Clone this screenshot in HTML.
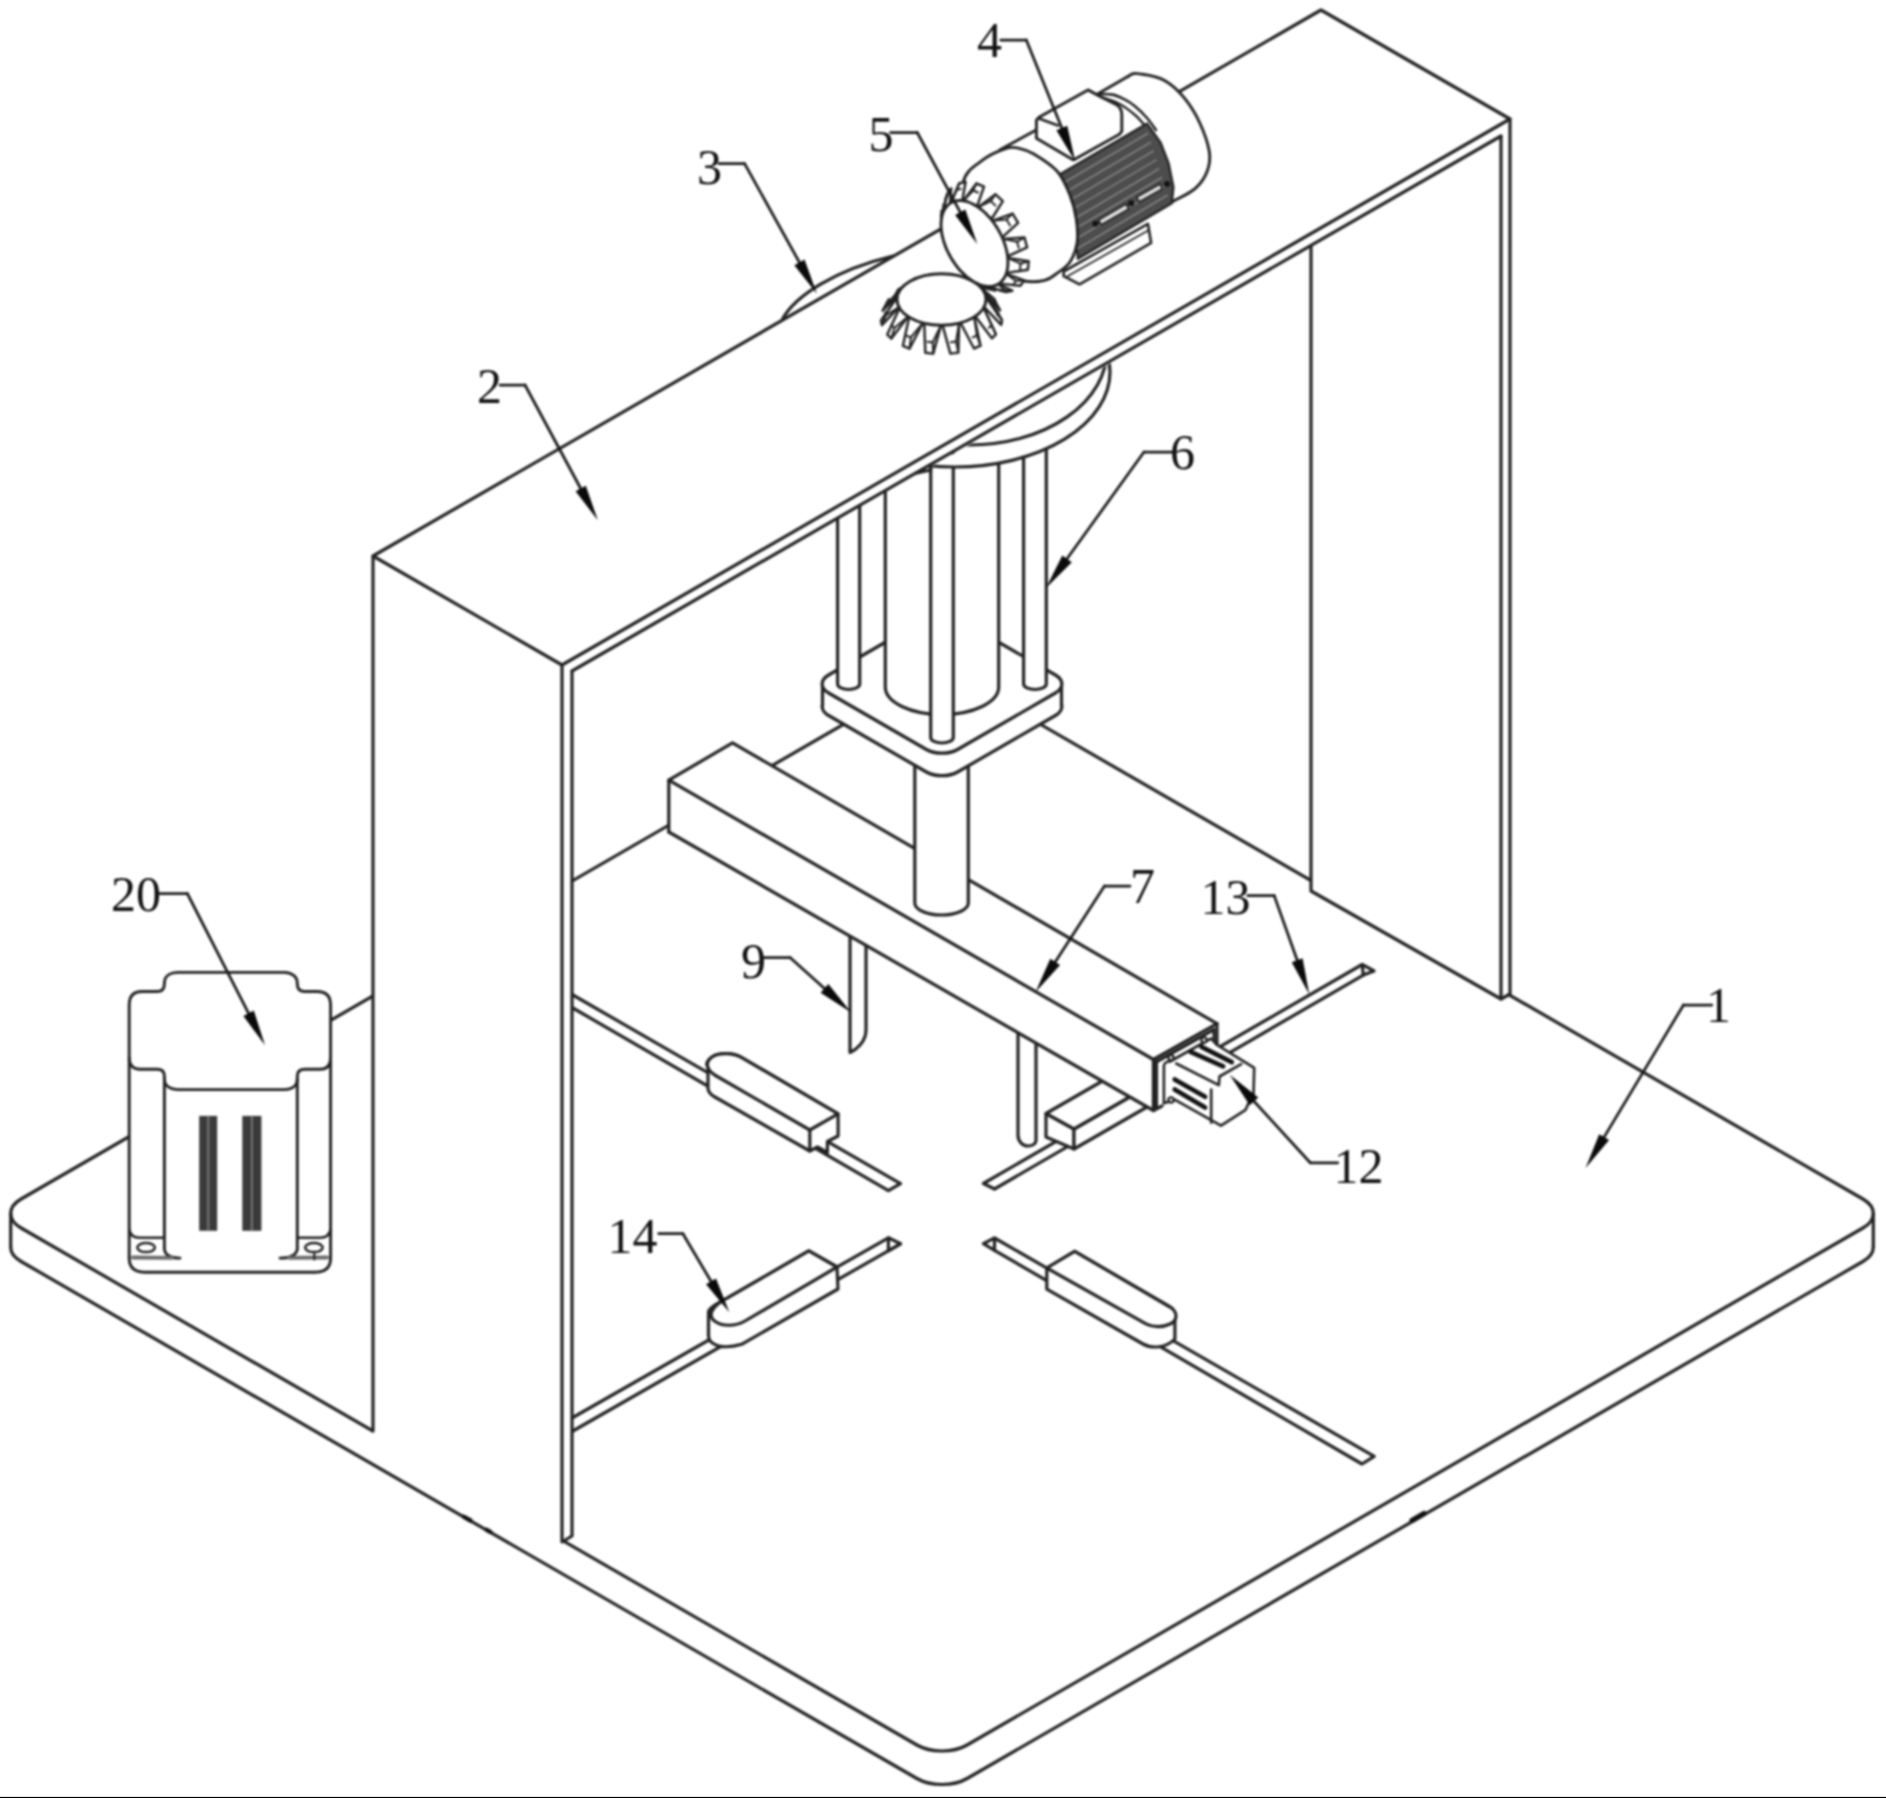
<!DOCTYPE html>
<html><head><meta charset="utf-8"><style>html,body{margin:0;padding:0;background:#fff;}svg{display:block;}</style></head>
<body><svg width="1886" height="1798" viewBox="0 0 1886 1798" stroke-linecap="round" stroke-linejoin="round"><defs><filter id="bl" color-interpolation-filters="sRGB" filterUnits="userSpaceOnUse" x="0" y="0" width="1886" height="1798"><feGaussianBlur stdDeviation="0.8"/></filter></defs><rect width="100%" height="100%" fill="#fff"/><g filter="url(#bl)"><defs><clipPath id="cbot"><rect x="0" y="1246.5" width="1886" height="600"/></clipPath></defs>
<path d="M21.1,1261.5 L916.9,1778.5 C930.8,1786.5 953.2,1786.5 967.1,1778.5 L1862.9,1261.5 C1876.8,1253.5 1876.8,1240.5 1862.9,1232.5 L967.1,715.5 C953.2,707.5 930.8,707.5 916.9,715.5 L21.1,1232.5 C7.2,1240.5 7.2,1253.5 21.1,1261.5" fill="none" stroke="#222" stroke-width="3.19" clip-path="url(#cbot)"/>
<path d="M21.1,1228.0 L916.9,1745.0 C930.8,1753.0 953.2,1753.0 967.1,1745.0 L1862.9,1228.0 C1876.8,1220.0 1876.8,1207.0 1862.9,1199.0 L967.1,682.0 C953.2,674.0 930.8,674.0 916.9,682.0 L21.1,1199.0 C7.2,1207.0 7.2,1220.0 21.1,1228.0" fill="#fff" stroke="#222" stroke-width="3.19"/>
<path d="M10.7,1213.5 L10.7,1247.0" stroke="#222" stroke-width="3.19" fill="none" />
<path d="M1873.3,1213.5 L1873.3,1247.0" stroke="#222" stroke-width="3.19" fill="none" />
<path d="M464.0,1516.8 L470.5,1520.5" stroke="#111" stroke-width="4.35" fill="none" />
<path d="M486.8,1529.8 L490.5,1532.0" stroke="#111" stroke-width="4.35" fill="none" />
<path d="M1412.0,1520.5 L1424.0,1513.6" stroke="#111" stroke-width="5.22" fill="none" />
<path d="M572.0,994.5 L900.5,1183.6 L888.4,1190.6 L572.0,1007.5" stroke="#222" stroke-width="3.19" fill="none" />
<path d="M572.0,1418.0 L888.4,1237.8 L900.5,1243.8 L572.0,1431.5" stroke="#222" stroke-width="3.19" fill="none" />
<path d="M888.4,1237.8 L888.4,1250.8 L900.5,1243.8" stroke="#222" stroke-width="3.19" fill="none" />
<path d="M994.5,1189.0 L983.4,1183.5 L1362.2,964.5 L1374.0,970.9 L1363.3,975.1 L994.5,1189.0" stroke="#222" stroke-width="3.19" fill="none" />
<path d="M1362.2,964.5 L1363.3,975.1" stroke="#222" stroke-width="3.19" fill="none" />
<path d="M983.4,1243.6 L994.5,1238.0 L1374.2,1456.3 L1362.0,1464.0 L994.5,1250.3 L983.4,1243.6" stroke="#222" stroke-width="3.19" fill="none" />
<path d="M994.5,1238.0 L994.5,1250.3" stroke="#222" stroke-width="3.19" fill="none" />
<path d="M708,1067 L708,1088 C708,1092 710,1094 714,1096.5 L809.8,1151 L817.5,1147 L827.4,1152.5 L827.4,1141.5 L838.1,1136 L838.1,1113.8 L741.3,1057.4 C732,1052 718,1053 712,1057 C706,1061 706,1065 708,1067 Z" fill="#fff" stroke="#222" stroke-width="3.19"/>
<path d="M809.8,1130 L715.5,1075.5 C706,1070 705,1062 712,1057 C718,1053 732,1052 741.3,1057.4 L838.1,1113.8 Z" fill="#fff" stroke="#222" stroke-width="3.19"/>
<path d="M809.8,1130.0 L809.8,1151.0" stroke="#222" stroke-width="3.19" fill="none" />
<path d="M708.5,1312 L708.5,1336 C709,1345 722,1350 741.6,1344.3 L838,1289 L837,1267 L808.8,1250.9 L727.2,1298.2 C716,1304 709,1308 708.5,1312 Z" fill="#fff" stroke="#222" stroke-width="3.19"/>
<path d="M808.8,1250.9 L727.2,1298.2 C712,1306 706,1316 716,1322 C722,1326 735,1327 745,1321 L837,1267 Z" fill="#fff" stroke="#222" stroke-width="3.19"/>
<path d="M1046.8,1268 L1046.8,1289.2 L1143,1344 C1152,1349 1166,1348 1174.9,1339 L1174.9,1314 C1174,1310 1172,1308 1170,1307 L1074.7,1251.4 Z" fill="#fff" stroke="#222" stroke-width="3.19"/>
<path d="M1046.8,1268 L1074.7,1251.4 L1170,1307 C1178,1312 1178,1320 1170,1324 C1163,1327.5 1153,1327.5 1146,1323.8 Z" fill="#fff" stroke="#222" stroke-width="3.19"/>
<path d="M1046.0,1113.5 L1074.0,1129.0 L1074.0,1149.0 L1046.0,1137.0Z" fill="#fff" stroke="#222" stroke-width="3.19"/>
<path d="M1074.0,1129.0 L1160.0,1079.5 L1160.0,1099.5 L1074.0,1149.0Z" fill="#fff" stroke="#222" stroke-width="3.19"/>
<path d="M1046.0,1113.5 L1132.0,1064.0 L1160.0,1079.5 L1074.0,1129.0Z" fill="#fff" stroke="#222" stroke-width="3.19"/>
<path d="M850,934 L850,1052.5 C856,1050 866,1042 866,1030 L866,946" fill="#fff" stroke="#222" stroke-width="3.19"/>
<path d="M1018,1033 L1018,1135 C1018,1142 1023,1146 1028,1146 C1032,1146 1036,1144 1036,1140 L1036,1043" fill="#fff" stroke="#222" stroke-width="3.19"/>
<path d="M668.8,780.2 L732.5,742.9 L1217.0,1023.7 L1217.0,1045.0 L1153.4,1110.5 L668.8,832.0Z" fill="#fff" stroke="none"/>
<path d="M668.8,832.0 L668.8,780.2 L732.5,742.9 L1217.0,1023.7" stroke="#222" stroke-width="3.19" fill="none" />
<path d="M668.8,780.2 L1153.4,1059.5 L1217.0,1023.7" stroke="#222" stroke-width="3.19" fill="none" />
<path d="M668.8,832.0 L1153.4,1110.5 L1153.4,1059.5" stroke="#222" stroke-width="3.19" fill="none" />
<path d="M1217.0,1023.7 L1217.0,1046.0" stroke="#222" stroke-width="3.19" fill="none" />
<path d="M1156.5,1061.0 L1156.5,1108.0" stroke="#222" stroke-width="3.19" fill="none" />
<path d="M1157.0,1061.5 L1214.0,1029.5 L1214.0,1046.0" stroke="#222" stroke-width="3.19" fill="none" />
<path d="M1153.4,1110.5 L1162.0,1106.0" stroke="#222" stroke-width="3.19" fill="none" />
<path d="M1163.9,1103.3 L1163.9,1066 C1164,1063 1167,1061.5 1170,1061.5 L1211,1038.5 L1216.6,1044.7 L1254.2,1067.8 L1253.5,1095.3 L1248.5,1103.3 L1245.6,1109.8 L1221,1125.7 L1174.7,1099.7 Z" fill="#fff" stroke="#222" stroke-width="2.61"/>
<path d="M1176.2,1063.5 L1218.8,1085.2 L1219.5,1076.5 L1241.2,1064.2" stroke="#222" stroke-width="2.61" fill="none" />
<path d="M1211.2,1089.5 L1211.2,1122.8" stroke="#222" stroke-width="2.61" fill="none" />
<path d="M1201.5,1046.9 L1231.8,1062.1" stroke="#111" stroke-width="4.64" fill="none" />
<path d="M1190.6,1051.9 L1223.2,1066.4" stroke="#111" stroke-width="4.64" fill="none" />
<path d="M1174.7,1079.4 L1205.1,1096.8" stroke="#111" stroke-width="4.64" fill="none" />
<path d="M1174.7,1089.5 L1205.1,1107.6" stroke="#111" stroke-width="4.64" fill="none" />
<circle cx="1171" cy="1057.7" r="2.6" fill="#fff" stroke="#222" stroke-width="2.32"/>
<circle cx="1171" cy="1100" r="2.6" fill="#fff" stroke="#222" stroke-width="2.32"/>
<circle cx="1204" cy="1040" r="2.6" fill="#fff" stroke="#222" stroke-width="2.32"/>
<path d="M914.8,740 L914.8,903 A26.75,12 0 0 0 968.3,903 L968.3,740" fill="#fff" stroke="#222" stroke-width="3.19"/>
<defs><clipPath id="cfl"><rect x="0" y="684" width="1886" height="200"/></clipPath></defs>
<path d="M828.6,715.5 L926.4,772.0 C935.0,776.9 949.0,776.9 957.6,772.0 L1055.4,715.5 C1064.0,710.5 1064.0,702.5 1055.4,697.5 L957.6,641.0 C949.0,636.1 935.0,636.1 926.4,641.0 L828.6,697.5 C820.0,702.5 820.0,710.5 828.6,715.5" fill="#fff" stroke="#222" stroke-width="3.19" clip-path="url(#cfl)"/>
<rect x="822.2" y="684" width="239.6" height="23" fill="#fff"/>
<path d="M822.5,684.0 L822.5,706.5" stroke="#222" stroke-width="3.19" fill="none" />
<path d="M1061.5,684.0 L1061.5,706.5" stroke="#222" stroke-width="3.19" fill="none" />
<path d="M828.6,693.0 L926.4,749.5 C935.0,754.4 949.0,754.4 957.6,749.5 L1055.4,693.0 C1064.0,688.0 1064.0,680.0 1055.4,675.0 L957.6,618.5 C949.0,613.6 935.0,613.6 926.4,618.5 L828.6,675.0 C820.0,680.0 820.0,688.0 828.6,693.0" fill="#fff" stroke="#222" stroke-width="3.19"/>
<path d="M885.3,480 L885.3,687 A56.7,27.5 0 0 0 998.7,687 L998.7,455 Z" fill="#fff" stroke="#222" stroke-width="3.19"/>
<path d="M837.6,500 L837.6,684 A11.05,5.5 0 0 0 859.7,684 L859.7,490" fill="#fff" stroke="#222" stroke-width="3.19"/>
<path d="M1023.6,440 L1023.6,684 A11.35,5.5 0 0 0 1046.3,684 L1046.3,430" fill="#fff" stroke="#222" stroke-width="3.19"/>
<path d="M930.7,450 L930.7,737.5 A11.3,5.5 0 0 0 953.3,737.5 L953.3,450" fill="#fff" stroke="#222" stroke-width="3.19"/>
<path d="M1311.0,245.3 L1501.0,136.0 L1501.0,999.0 L1311.0,891.0Z" fill="#fff" stroke="none"/>
<path d="M1501.0,136.0 L1510.0,119.0 L1510.0,994.0 L1501.0,999.0Z" fill="#fff" stroke="none"/>
<path d="M1311.0,245.3 L1311.0,891.0 L1501.0,999.0 L1510.0,994.0 L1510.0,119.0" stroke="#222" stroke-width="3.19" fill="none" />
<path d="M1501.0,136.0 L1501.0,999.0" stroke="#222" stroke-width="3.19" fill="none" />
<path d="M373.0,556.0 L562.0,665.0 L562.0,1545.0 L373.0,1434.0Z" fill="#fff" stroke="none"/>
<path d="M562.0,665.0 L572.0,671.0 L572.0,1536.0 L562.0,1542.0Z" fill="#fff" stroke="none"/>
<path d="M373.0,556.0 L373.0,1431.0" stroke="#222" stroke-width="3.19" fill="none" />
<path d="M562.0,665.0 L562.0,1542.0 L572.0,1536.0 L572.0,671.0" stroke="#222" stroke-width="3.19" fill="none" />
<rect x="129.2" y="972" width="201.4" height="300" fill="#fff"/>
<path d="M129.2,1258 L129.2,1005 C129.2,996 133,991.5 142,991.5 L157,991.5 Q164.4,991.5 164.4,984 L164.4,983 C164.4,976 170,972.4 178.9,972.4 L284.2,972.4 C292,972.4 297.3,977 297.3,983 L297.3,984 Q297.3,991.5 305,991.5 L317,991.5 C326,991.5 330.6,996 330.6,1005 L330.6,1258" stroke="#222" stroke-width="2.90" fill="none" />
<path d="M129.2,1058 C129.2,1065 133,1069.3 140,1069.3 L157,1069.3 Q164.4,1069.3 164.4,1076 L164.4,1079 C164.4,1086 170,1089.6 179,1089.6 L284,1089.6 C292,1089.6 297.3,1086 297.3,1079 L297.3,1076 Q297.3,1069.3 305,1069.3 L320,1069.3 C327,1069.3 330.6,1065 330.6,1058" stroke="#222" stroke-width="2.90" fill="none" />
<path d="M164.4,1079.0 L164.4,1249.0" stroke="#222" stroke-width="2.90" fill="none" />
<path d="M297.3,1079.0 L297.3,1249.0" stroke="#222" stroke-width="2.90" fill="none" />
<path d="M129.2,1229.5 C130,1235 134,1237.8 140,1237.8 L163,1237.8" stroke="#222" stroke-width="2.61" fill="none" />
<path d="M330.6,1229.5 C329.5,1235 326,1237.8 320,1237.8 L298,1237.8" stroke="#222" stroke-width="2.61" fill="none" />
<path d="M164.4,1249 C165,1255 170,1258 180,1258.2" stroke="#222" stroke-width="2.75" fill="none" />
<path d="M297.3,1249 C296.5,1255 291,1258 280,1258.2" stroke="#222" stroke-width="2.75" fill="none" />
<path d="M133.0,1257.5 L172.0,1257.8" stroke="#6a6a6a" stroke-width="3.77" fill="none" />
<path d="M289.0,1257.8 L327.0,1257.5" stroke="#6a6a6a" stroke-width="3.77" fill="none" />
<path d="M314.3,1254.0 L314.3,1259.4" stroke="#222" stroke-width="2.17" fill="none" />
<path d="M129.2,1258 C129.2,1267 134,1272.2 145,1272.2 L315,1272.2 C326,1272.2 330.6,1267 330.6,1258" stroke="#222" stroke-width="2.90" fill="none" />
<ellipse cx="146.1" cy="1247.6" rx="8.8" ry="4.5" fill="none" stroke="#222" stroke-width="2.46"/>
<ellipse cx="313.9" cy="1247.6" rx="8.8" ry="4.5" fill="none" stroke="#222" stroke-width="2.46"/>
<rect x="199.2" y="1115.9" width="18.0" height="114.9" fill="#3a3a3a"/>
<line x1="208.2" y1="1117" x2="208.2" y2="1230" stroke="#707070" stroke-width="2.32"/>
<rect x="242.3" y="1115.9" width="19.099999999999966" height="114.9" fill="#3a3a3a"/>
<line x1="251.85" y1="1117" x2="251.85" y2="1230" stroke="#707070" stroke-width="2.32"/>
<defs><clipPath id="cbeam"><path d="M0,1200 L572,1200 L572,673.5 L1501,138.5 L1886,138.5 L1886,1200 Z"/></clipPath></defs>
<ellipse cx="955" cy="372" rx="155" ry="95" fill="#fff" stroke="#222" stroke-width="3.19" clip-path="url(#cbeam)"/>
<ellipse cx="970" cy="350" rx="137" ry="95" fill="none" stroke="#222" stroke-width="3.19" clip-path="url(#cbeam)"/>
<path d="M930.7,466.0 L930.7,470.0" stroke="#222" stroke-width="3.19" fill="none" />
<path d="M562.0,665.0 L1510.0,119.0 L1501.0,136.0 L572.0,671.0Z" fill="#fff" stroke="none"/>
<path d="M373.0,556.0 L1321.0,10.0 L1510.0,119.0 L562.0,665.0Z" fill="#fff" stroke="#222" stroke-width="3.19"/>
<path d="M572.0,671.0 L1501.0,136.0" stroke="#222" stroke-width="3.19" fill="none" />
<path d="M782.4,319.3 C795,296 835,270 893,256" stroke="#222" stroke-width="3.19" fill="none" />
<path d="M932.8,274.3 L937.2,284.1 L945.3,284.1 L949.8,274.3Z" fill="#fff" stroke="#222" stroke-width="2.46"/>
<path d="M937.2,284.1 L938.6,277.8 L932.8,274.3" stroke="#222" stroke-width="1.97" fill="none" />
<path d="M938.6,277.8 L943.9,277.7" stroke="#222" stroke-width="1.97" fill="none" />
<path d="M951.3,274.4 L962.1,286.1 L969.5,288.0 L966.9,278.4Z" fill="#fff" stroke="#222" stroke-width="2.46"/>
<path d="M962.1,286.1 L961.7,279.9 L951.3,274.4" stroke="#222" stroke-width="1.97" fill="none" />
<path d="M961.7,279.9 L966.5,281.1" stroke="#222" stroke-width="1.97" fill="none" />
<path d="M915.8,278.5 L913.0,288.2 L920.4,286.2 L931.3,274.5Z" fill="#fff" stroke="#222" stroke-width="2.46"/>
<path d="M913.0,288.2 L916.0,281.3 L915.8,278.5" stroke="#222" stroke-width="1.97" fill="none" />
<path d="M916.0,281.3 L920.8,280.0" stroke="#222" stroke-width="1.97" fill="none" />
<path d="M968.1,278.9 L983.5,293.8 L988.9,297.3 L979.6,286.2Z" fill="#fff" stroke="#222" stroke-width="2.46"/>
<path d="M983.5,293.8 L981.3,287.3 L968.1,278.9" stroke="#222" stroke-width="1.97" fill="none" />
<path d="M981.3,287.3 L984.9,289.5" stroke="#222" stroke-width="1.97" fill="none" />
<path d="M903.2,286.4 L893.7,297.5 L899.1,294.0 L914.6,279.0Z" fill="#fff" stroke="#222" stroke-width="2.46"/>
<path d="M893.7,297.5 L897.8,289.8 L903.2,286.4" stroke="#222" stroke-width="1.97" fill="none" />
<path d="M897.8,289.8 L901.3,287.5" stroke="#222" stroke-width="1.97" fill="none" />
<path d="M980.3,286.9 L997.6,305.8 L1000.1,310.3 L985.6,296.3Z" fill="#fff" stroke="#222" stroke-width="2.46"/>
<path d="M997.6,305.8 L994.1,298.6 L980.3,286.9" stroke="#222" stroke-width="1.97" fill="none" />
<path d="M994.1,298.6 L995.7,301.5" stroke="#222" stroke-width="1.97" fill="none" />
<path d="M897.3,296.5 L882.7,310.6 L885.2,306.2 L902.5,287.1Z" fill="#fff" stroke="#222" stroke-width="2.46"/>
<path d="M882.7,310.6 L887.1,301.8 L897.3,296.5" stroke="#222" stroke-width="1.97" fill="none" />
<path d="M887.1,301.8 L888.8,298.9" stroke="#222" stroke-width="1.97" fill="none" />
<path d="M985.8,297.1 L1002.0,320.2 L1001.2,324.8 L984.1,306.9Z" fill="#fff" stroke="#222" stroke-width="2.46"/>
<path d="M1002.0,320.2 L997.7,311.9 L985.8,297.1" stroke="#222" stroke-width="1.97" fill="none" />
<path d="M997.7,311.9 L997.2,315.0" stroke="#222" stroke-width="1.97" fill="none" />
<path d="M899.0,307.1 L881.9,325.1 L881.0,320.5 L897.2,297.4Z" fill="#fff" stroke="#222" stroke-width="2.46"/>
<path d="M881.9,325.1 L885.9,315.3 L899.0,307.1" stroke="#222" stroke-width="1.97" fill="none" />
<path d="M885.9,315.3 L885.3,312.3" stroke="#222" stroke-width="1.97" fill="none" />
<path d="M983.7,307.7 L995.9,334.3 L991.9,338.3 L975.2,316.3Z" fill="#fff" stroke="#222" stroke-width="2.46"/>
<path d="M995.9,334.3 L991.6,325.0 L983.7,307.7" stroke="#222" stroke-width="1.97" fill="none" />
<path d="M991.6,325.0 L989.0,327.7" stroke="#222" stroke-width="1.97" fill="none" />
<path d="M908.1,316.5 L891.4,338.6 L887.3,334.6 L899.5,308.0Z" fill="#fff" stroke="#222" stroke-width="2.46"/>
<path d="M891.4,338.6 L894.3,327.9 L908.1,316.5" stroke="#222" stroke-width="1.97" fill="none" />
<path d="M894.3,327.9 L891.6,325.3" stroke="#222" stroke-width="1.97" fill="none" />
<path d="M974.2,316.9 L980.5,345.7 L974.0,348.5 L960.5,322.7Z" fill="#fff" stroke="#222" stroke-width="2.46"/>
<path d="M980.5,345.7 L976.9,335.5 L974.2,316.9" stroke="#222" stroke-width="1.97" fill="none" />
<path d="M976.9,335.5 L972.6,337.3" stroke="#222" stroke-width="1.97" fill="none" />
<path d="M922.9,322.9 L909.5,348.7 L902.9,345.9 L909.1,317.1Z" fill="#fff" stroke="#222" stroke-width="2.46"/>
<path d="M909.5,348.7 L910.8,337.5 L922.9,322.9" stroke="#222" stroke-width="1.97" fill="none" />
<path d="M910.8,337.5 L906.5,335.7" stroke="#222" stroke-width="1.97" fill="none" />
<path d="M959.1,323.1 L958.3,352.6 L950.4,353.6 L942.5,325.2Z" fill="#fff" stroke="#222" stroke-width="2.46"/>
<path d="M958.3,352.6 L956.0,341.6 L959.1,323.1" stroke="#222" stroke-width="1.97" fill="none" />
<path d="M956.0,341.6 L950.9,342.3" stroke="#222" stroke-width="1.97" fill="none" />
<path d="M941.0,325.2 L933.2,353.6 L925.3,352.7 L924.3,323.2Z" fill="#fff" stroke="#222" stroke-width="2.46"/>
<path d="M933.2,353.6 L932.7,342.3 L941.0,325.2" stroke="#222" stroke-width="1.97" fill="none" />
<path d="M932.7,342.3 L927.5,341.7" stroke="#222" stroke-width="1.97" fill="none" />
<ellipse cx="941.5" cy="299.5" rx="44.5" ry="25.7" fill="#fff" stroke="#222" stroke-width="2.90"/>
<path d="M1128.3,76.3 C1133.4,72.0 1136.3,73.5 1142.5,74.3 C1148.7,75.1 1158.4,77.0 1165.4,81.0 C1172.4,85.0 1178.8,91.2 1184.5,98.2 C1190.2,105.2 1195.7,114.1 1199.8,123.0 C1203.9,131.9 1208.0,143.7 1209.3,151.6 C1210.6,159.5 1209.6,164.6 1207.4,170.7 C1205.2,176.8 1201.0,183.1 1195.9,187.9 C1190.8,192.7 1182.6,196.4 1176.9,199.3 C1171.2,202.2 1167.8,205.0 1161.6,205.1 C1155.4,205.2 1147.3,209.2 1140.0,200.0 C1132.7,190.8 1122.7,166.7 1118.0,150.0 C1113.3,133.3 1110.3,112.3 1112.0,100.0 C1113.7,87.7 1123.2,80.6 1128.3,76.3Z" fill="#fff" stroke="#222" stroke-width="2.90"/>
<path d="M1000.0,150.0 L1036.0,130.0 L1098.0,94.0 L1128.0,77.0 L1150.0,125.0 L1172.0,200.0 L1078.0,259.0 L1060.0,175.0Z" fill="#fff" stroke="none"/>
<path d="M1000.0,149.8 L1036.2,130.0" stroke="#222" stroke-width="2.90" fill="none" />
<path d="M1098.0,93.8 L1128.3,76.3" stroke="#222" stroke-width="2.90" fill="none" />
<path d="M1036.4,138.3 L1036.4,120.2 L1039,117.3 L1088,89.9 L1096.7,94.6 L1116,104.5 C1119,106 1121.8,110 1121.8,115 L1121.8,131.3 L1119.5,134.2 L1073.4,159.9 Z" fill="#fff" stroke="#222" stroke-width="2.90"/>
<path d="M1039.0,118.5 L1058.0,125.5" stroke="#222" stroke-width="2.61" fill="none" />
<path d="M1097.9,94.0 C1100.3,94.1 1108.1,93.7 1112.5,94.6 C1116.9,95.5 1120.3,97.3 1124.1,99.2 C1127.8,101.1 1131.2,103.1 1135.0,106.2 C1138.8,109.3 1143.5,114.0 1147.0,118.0 C1150.5,122.0 1154.5,128.0 1156.0,130.0" stroke="#222" stroke-width="2.61" fill="none" />
<path d="M1100.8,96.9 C1103.7,98.0 1112.6,100.3 1118.3,103.3 C1124.0,106.3 1130.2,110.9 1135.0,115.0 C1139.8,119.1 1145.0,125.8 1147.0,128.0" stroke="#222" stroke-width="2.32" fill="none" />
<path d="M1059.6,174.5 L1147.1,123.6 L1160.6,142.7 L1168.6,163.4 L1173.4,187.2 L1171.8,203.2 L1077.9,258.8 L1076.3,242.9 L1073.0,211.0 L1067.0,190.0Z" fill="#4d4d4d" stroke="#222" stroke-width="2.32"/>
<path d="M1063.6,182.9 L1147.8,133.4" stroke="#8a8a8a" stroke-width="1.45" fill="none" />
<path d="M1065.7,192.2 L1150.6,142.3" stroke="#8a8a8a" stroke-width="1.45" fill="none" />
<path d="M1067.7,201.6 L1153.3,151.1" stroke="#8a8a8a" stroke-width="1.45" fill="none" />
<path d="M1069.7,211.0 L1156.1,160.0" stroke="#8a8a8a" stroke-width="1.45" fill="none" />
<path d="M1071.8,220.3 L1158.8,168.8" stroke="#8a8a8a" stroke-width="1.45" fill="none" />
<path d="M1073.8,229.7 L1161.6,177.7" stroke="#8a8a8a" stroke-width="1.45" fill="none" />
<path d="M1075.8,239.1 L1164.3,186.5" stroke="#8a8a8a" stroke-width="1.45" fill="none" />
<path d="M1077.9,248.4 L1167.1,195.4" stroke="#8a8a8a" stroke-width="1.45" fill="none" />
<path d="M1098.6,220 L1126,204 L1128.8,209 L1101,225 Z" fill="#ddd" stroke="#222" stroke-width="1.74"/>
<path d="M1136.8,197 L1160,184 L1162.2,189 L1139,202 Z" fill="#ddd" stroke="#222" stroke-width="1.74"/>
<circle cx="1095.4" cy="223.8" r="3" fill="#111"/>
<circle cx="1131.2" cy="203.2" r="3" fill="#111"/>
<circle cx="1167" cy="184.1" r="3" fill="#111"/>
<path d="M1063.6,271.5 L1147.9,223.8 L1151.1,242.9 L1079.5,284.3 L1063.6,276 Z" fill="#fff" stroke="#222" stroke-width="2.61"/>
<path d="M1068.0,276.0 L1149.0,230.0" stroke="#222" stroke-width="1.74" fill="none" />
<path d="M963.0,183.0 C965.9,169.7 975.3,166.0 982.5,160.2 C989.7,154.4 1000.2,150.3 1006.3,148.3 C1012.4,146.3 1014.6,147.4 1019.1,148.3 C1023.6,149.2 1027.1,150.0 1033.4,153.8 C1039.8,157.6 1051.1,164.4 1057.2,171.3 C1063.3,178.2 1066.8,187.2 1070.0,195.2 C1073.2,203.1 1075.1,211.1 1076.3,219.0 C1077.5,226.9 1078.1,235.7 1077.1,242.9 C1076.0,250.1 1073.3,257.0 1070.0,262.0 C1066.7,267.0 1061.5,270.1 1057.2,273.1 C1053.0,276.2 1050.0,279.0 1044.5,280.3 C1039.0,281.6 1033.1,282.7 1024.0,281.0 C1014.9,279.3 999.8,276.8 990.0,270.0 C980.2,263.2 969.5,254.5 965.0,240.0 C960.5,225.5 960.1,196.3 963.0,183.0Z" fill="#fff" stroke="#222" stroke-width="2.90"/>
<path d="M950.8,202.9 L959.2,183.3 L965.6,182.0 L962.3,200.7Z" fill="#fff" stroke="#222" stroke-width="2.46"/>
<path d="M959.2,183.3 L956.9,189.7 L950.8,202.9" stroke="#222" stroke-width="1.97" fill="none" />
<path d="M956.9,189.7 L961.0,188.9" stroke="#222" stroke-width="1.97" fill="none" />
<path d="M963.5,200.8 L976.4,183.5 L984.0,186.6 L977.1,206.4Z" fill="#fff" stroke="#222" stroke-width="2.46"/>
<path d="M976.4,183.5 L973.1,190.5 L963.5,200.8" stroke="#222" stroke-width="1.97" fill="none" />
<path d="M973.1,190.5 L978.0,192.5" stroke="#222" stroke-width="1.97" fill="none" />
<path d="M942.9,213.0 L947.3,193.7 L951.2,188.3 L950.0,203.4Z" fill="#fff" stroke="#222" stroke-width="2.46"/>
<path d="M947.3,193.7 L945.4,198.8 L942.9,213.0" stroke="#222" stroke-width="1.97" fill="none" />
<path d="M945.4,198.8 L948.0,195.3" stroke="#222" stroke-width="1.97" fill="none" />
<path d="M978.3,207.2 L995.5,194.3 L1002.8,201.2 L991.3,219.5Z" fill="#fff" stroke="#222" stroke-width="2.46"/>
<path d="M995.5,194.3 L990.8,201.1 L978.3,207.2" stroke="#222" stroke-width="1.97" fill="none" />
<path d="M990.8,201.1 L995.5,205.6" stroke="#222" stroke-width="1.97" fill="none" />
<path d="M941.3,229.1 L942.9,212.7 L943.7,204.3 L942.5,214.1Z" fill="#fff" stroke="#222" stroke-width="2.46"/>
<path d="M942.9,212.7 L940.9,216.1 L941.3,229.1" stroke="#222" stroke-width="1.97" fill="none" />
<path d="M940.9,216.1 L941.4,210.6" stroke="#222" stroke-width="1.97" fill="none" />
<path d="M992.3,220.8 L1012.6,213.6 L1018.1,222.8 L1002.2,237.3Z" fill="#fff" stroke="#222" stroke-width="2.46"/>
<path d="M1012.6,213.6 L1006.5,219.4 L992.3,220.8" stroke="#222" stroke-width="1.97" fill="none" />
<path d="M1006.5,219.4 L1010.1,225.4" stroke="#222" stroke-width="1.97" fill="none" />
<path d="M946.2,248.1 L947.1,236.5 L944.4,226.7 L941.4,230.6Z" fill="#fff" stroke="#222" stroke-width="2.46"/>
<path d="M947.1,236.5 L944.3,238.1 L946.2,248.1" stroke="#222" stroke-width="1.97" fill="none" />
<path d="M944.3,238.1 L942.5,231.7" stroke="#222" stroke-width="1.97" fill="none" />
<path d="M1002.8,238.9 L1024.4,237.5 L1027.1,247.3 L1007.6,256.4Z" fill="#fff" stroke="#222" stroke-width="2.46"/>
<path d="M1024.4,237.5 L1017.1,241.8 L1002.8,238.9" stroke="#222" stroke-width="1.97" fill="none" />
<path d="M1017.1,241.8 L1018.8,248.1" stroke="#222" stroke-width="1.97" fill="none" />
<path d="M956.7,266.2 L958.9,260.4 L953.4,251.2 L946.8,249.7Z" fill="#fff" stroke="#222" stroke-width="2.46"/>
<path d="M958.9,260.4 L954.9,260.5 L956.7,266.2" stroke="#222" stroke-width="1.97" fill="none" />
<path d="M954.9,260.5 L951.3,254.4" stroke="#222" stroke-width="1.97" fill="none" />
<path d="M1007.7,257.9 L1028.6,261.3 L1027.9,269.7 L1006.5,272.9Z" fill="#fff" stroke="#222" stroke-width="2.46"/>
<path d="M1028.6,261.3 L1020.5,263.7 L1007.7,257.9" stroke="#222" stroke-width="1.97" fill="none" />
<path d="M1020.5,263.7 L1020.0,269.2" stroke="#222" stroke-width="1.97" fill="none" />
<path d="M970.7,279.8 L976.0,279.7 L968.7,272.8 L957.7,267.5Z" fill="#fff" stroke="#222" stroke-width="2.46"/>
<path d="M976.0,279.7 L970.6,278.7 L970.7,279.8" stroke="#222" stroke-width="1.97" fill="none" />
<path d="M970.6,278.7 L965.9,274.3" stroke="#222" stroke-width="1.97" fill="none" />
<path d="M1006.1,274.0 L1024.3,280.3 L1020.3,285.7 L999.0,283.6Z" fill="#fff" stroke="#222" stroke-width="2.46"/>
<path d="M1024.3,280.3 L1016.0,281.0 L1006.1,274.0" stroke="#222" stroke-width="1.97" fill="none" />
<path d="M1016.0,281.0 L1013.4,284.5" stroke="#222" stroke-width="1.97" fill="none" />
<path d="M985.5,286.2 L995.1,290.5 L987.5,287.4 L971.9,280.6Z" fill="#fff" stroke="#222" stroke-width="2.46"/>
<path d="M995.1,290.5 L988.3,289.3 L985.5,286.2" stroke="#222" stroke-width="1.97" fill="none" />
<path d="M988.3,289.3 L983.4,287.3" stroke="#222" stroke-width="1.97" fill="none" />
<path d="M998.2,284.1 L1012.3,290.7 L1005.9,292.0 L986.7,286.3Z" fill="#fff" stroke="#222" stroke-width="2.46"/>
<path d="M1012.3,290.7 L1004.5,290.2 L998.2,284.1" stroke="#222" stroke-width="1.97" fill="none" />
<path d="M1004.5,290.2 L1000.3,291.0" stroke="#222" stroke-width="1.97" fill="none" />
<path d="M998.0,284.2 C997.2,284.7 996.3,285.1 995.4,285.4 C994.5,285.7 993.5,286.0 992.5,286.2 C991.6,286.3 990.5,286.4 989.5,286.5 C988.4,286.5 987.4,286.4 986.3,286.3 C985.2,286.1 984.1,285.9 982.9,285.6 C981.8,285.3 980.7,285.0 979.5,284.5 C978.4,284.1 977.2,283.5 976.0,282.9 C974.9,282.4 973.7,281.7 972.5,281.0 C971.4,280.2 970.2,279.4 969.0,278.5 C967.9,277.7 966.7,276.7 965.6,275.8 C964.5,274.8 963.4,273.7 962.3,272.6 C961.2,271.5 960.1,270.4 959.1,269.2 C958.1,268.0 957.1,266.7 956.1,265.4 C955.1,264.1 954.2,262.8 953.3,261.4 C952.4,260.1 951.5,258.7 950.7,257.2 C949.9,255.8 949.1,254.4 948.4,252.9 C947.6,251.5 946.9,250.0 946.3,248.5 C945.7,247.0 945.1,245.5 944.6,244.0 C944.1,242.5 943.6,241.0 943.2,239.5 C942.8,238.0 942.4,236.5 942.1,235.1 C941.8,233.6 941.6,232.1 941.4,230.7 C941.2,229.3 941.1,227.9 941.1,226.5 C941.0,225.1 941.0,223.8 941.1,222.5 C941.2,221.1 941.3,219.9 941.5,218.7 C941.7,217.4 941.9,216.3 942.2,215.1 C942.6,214.0 942.9,212.9 943.3,211.9 C943.8,210.9 944.3,209.9 944.8,209.0 C945.3,208.1 945.9,207.3 946.6,206.5 C947.2,205.8 947.9,205.1 948.6,204.5 C949.4,203.8 950.2,203.3 951.0,202.8 C951.8,202.3 952.7,201.9 953.6,201.6 C954.5,201.3 955.5,201.0 956.5,200.8 C957.4,200.7 958.5,200.6 959.5,200.5 C960.6,200.5 961.6,200.6 962.7,200.7 C963.8,200.9 964.9,201.1 966.1,201.4 C967.2,201.7 968.3,202.0 969.5,202.5 C970.6,202.9 971.8,203.5 973.0,204.1 C974.1,204.6 975.3,205.3 976.5,206.0 C977.6,206.8 978.8,207.6 980.0,208.5 C981.1,209.3 982.3,210.3 983.4,211.2 C984.5,212.2 985.6,213.3 986.7,214.4 C987.8,215.5 988.9,216.6 989.9,217.8 C990.9,219.0 991.9,220.3 992.9,221.6 C993.9,222.9 994.8,224.2 995.7,225.6 C996.6,226.9 997.5,228.3 998.3,229.8 C999.1,231.2 999.9,232.6 1000.6,234.1 C1001.4,235.5 1002.1,237.0 1002.7,238.5 C1003.3,240.0 1003.9,241.5 1004.4,243.0 C1004.9,244.5 1005.4,246.0 1005.8,247.5 C1006.2,249.0 1006.6,250.5 1006.9,251.9 C1007.2,253.4 1007.4,254.9 1007.6,256.3 C1007.8,257.7 1007.9,259.1 1007.9,260.5 C1008.0,261.9 1008.0,263.2 1007.9,264.5 C1007.8,265.9 1007.7,267.1 1007.5,268.3 C1007.3,269.6 1007.1,270.7 1006.8,271.9 C1006.4,273.0 1006.1,274.1 1005.7,275.1 C1005.2,276.1 1004.7,277.1 1004.2,278.0 C1003.7,278.9 1003.1,279.7 1002.4,280.5 C1001.8,281.2 1001.1,281.9 1000.4,282.5 C999.6,283.2 998.8,283.7 998.0,284.2Z" fill="#fff" stroke="#222" stroke-width="2.90"/>
<text x="477" y="402.5" font-family="Liberation Serif, serif" font-size="50" fill="#111">2</text>
<path d="M500.0,385.0 L525.0,385.0" stroke="#1a1a1a" stroke-width="2.75" fill="none" />
<path d="M525.0,385.0 L580.7,488.5" stroke="#1a1a1a" stroke-width="2.75" fill="none" />
<path d="M597.8,520.2 L575.6,491.3 L585.8,485.8Z" fill="#0a0a0a" stroke="none"/>
<text x="697" y="183.7" font-family="Liberation Serif, serif" font-size="50" fill="#111">3</text>
<path d="M719.0,163.7 L744.6,163.7" stroke="#1a1a1a" stroke-width="2.75" fill="none" />
<path d="M744.6,163.7 L799.4,262.3" stroke="#1a1a1a" stroke-width="2.75" fill="none" />
<path d="M816.9,293.8 L794.3,265.2 L804.5,259.5Z" fill="#0a0a0a" stroke="none"/>
<text x="868.5" y="151.4" font-family="Liberation Serif, serif" font-size="50" fill="#111">5</text>
<path d="M890.5,132.5 L917.2,132.5" stroke="#1a1a1a" stroke-width="2.75" fill="none" />
<path d="M917.2,132.5 L960.2,212.2" stroke="#1a1a1a" stroke-width="2.75" fill="none" />
<path d="M977.3,243.9 L955.1,215.0 L965.3,209.5Z" fill="#0a0a0a" stroke="none"/>
<text x="977" y="56.8" font-family="Liberation Serif, serif" font-size="50" fill="#111">4</text>
<path d="M1000.7,40.0 L1026.3,40.0" stroke="#1a1a1a" stroke-width="2.75" fill="none" />
<path d="M1026.3,40.0 L1061.8,128.0" stroke="#1a1a1a" stroke-width="2.75" fill="none" />
<path d="M1075.3,161.4 L1056.4,130.2 L1067.2,125.8Z" fill="#0a0a0a" stroke="none"/>
<text x="1170" y="469" font-family="Liberation Serif, serif" font-size="50" fill="#111">6</text>
<path d="M1172.0,452.0 L1144.0,452.0" stroke="#1a1a1a" stroke-width="2.75" fill="none" />
<path d="M1144.0,452.0 L1067.0,558.8" stroke="#1a1a1a" stroke-width="2.75" fill="none" />
<path d="M1046.0,588.0 L1062.3,555.4 L1071.8,562.2Z" fill="#0a0a0a" stroke="none"/>
<text x="111" y="911.4" font-family="Liberation Serif, serif" font-size="50" fill="#111">20</text>
<path d="M159.8,893.5 L187.3,893.5" stroke="#1a1a1a" stroke-width="2.75" fill="none" />
<path d="M187.3,893.5 L248.6,1013.3" stroke="#1a1a1a" stroke-width="2.75" fill="none" />
<path d="M265.0,1045.3 L243.4,1015.9 L253.8,1010.6Z" fill="#0a0a0a" stroke="none"/>
<text x="741" y="977.5" font-family="Liberation Serif, serif" font-size="50" fill="#111">9</text>
<path d="M763.8,957.5 L790.0,957.5" stroke="#1a1a1a" stroke-width="2.75" fill="none" />
<path d="M790.0,957.5 L824.5,988.4" stroke="#1a1a1a" stroke-width="2.75" fill="none" />
<path d="M851.2,1012.5 L820.6,992.8 L828.3,984.1Z" fill="#0a0a0a" stroke="none"/>
<text x="1130" y="903" font-family="Liberation Serif, serif" font-size="50" fill="#111">7</text>
<path d="M1130.0,886.0 L1104.5,886.0" stroke="#1a1a1a" stroke-width="2.75" fill="none" />
<path d="M1104.5,886.0 L1055.2,961.9" stroke="#1a1a1a" stroke-width="2.75" fill="none" />
<path d="M1035.6,992.1 L1050.3,958.7 L1060.1,965.1Z" fill="#0a0a0a" stroke="none"/>
<text x="1200.5" y="913.6" font-family="Liberation Serif, serif" font-size="50" fill="#111">13</text>
<path d="M1247.7,895.6 L1274.2,895.6" stroke="#1a1a1a" stroke-width="2.75" fill="none" />
<path d="M1274.2,895.6 L1297.2,960.3" stroke="#1a1a1a" stroke-width="2.75" fill="none" />
<path d="M1309.2,994.2 L1291.7,962.2 L1302.6,958.3Z" fill="#0a0a0a" stroke="none"/>
<text x="1333.5" y="1183" font-family="Liberation Serif, serif" font-size="50" fill="#111">12</text>
<path d="M1337.8,1162.8 L1310.3,1162.8" stroke="#1a1a1a" stroke-width="2.75" fill="none" />
<path d="M1310.3,1162.8 L1254.0,1101.3" stroke="#1a1a1a" stroke-width="2.75" fill="none" />
<path d="M1229.7,1074.8 L1258.3,1097.4 L1249.7,1105.3Z" fill="#0a0a0a" stroke="none"/>
<text x="1706" y="1022.3" font-family="Liberation Serif, serif" font-size="50" fill="#111">1</text>
<path d="M1711.8,1005.0 L1683.5,1005.0" stroke="#1a1a1a" stroke-width="2.75" fill="none" />
<path d="M1683.5,1005.0 L1604.1,1137.1" stroke="#1a1a1a" stroke-width="2.75" fill="none" />
<path d="M1585.6,1168.0 L1599.2,1134.2 L1609.1,1140.1Z" fill="#0a0a0a" stroke="none"/>
<text x="607.5" y="1252.9" font-family="Liberation Serif, serif" font-size="50" fill="#111">14</text>
<path d="M658.7,1233.7 L682.9,1233.7" stroke="#1a1a1a" stroke-width="2.75" fill="none" />
<path d="M682.9,1233.7 L711.0,1281.3" stroke="#1a1a1a" stroke-width="2.75" fill="none" />
<path d="M729.3,1312.3 L706.0,1284.2 L716.0,1278.4Z" fill="#0a0a0a" stroke="none"/></g><rect x="0" y="1796.9" width="1886" height="1.1" fill="#000"/></svg></body></html>
